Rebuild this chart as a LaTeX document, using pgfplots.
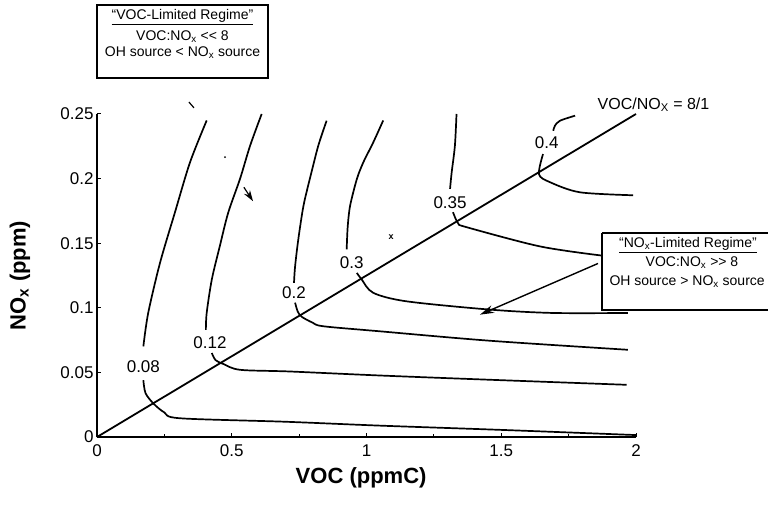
\documentclass[border=0pt]{standalone}
\usepackage{pgfplots}
\pgfplotsset{compat=1.18}
\usepackage{fontspec}
\setmainfont{Liberation Sans}
\usetikzlibrary{arrows.meta}

\newcommand{\clab}{\fontsize{17}{18}\selectfont}
\newcommand{\boxf}{\fontsize{14}{15}\selectfont}

\begin{document}
\begin{tikzpicture}
\useasboundingbox (0,0) rectangle (768pt,506pt);
\begin{axis}[
  at={(97pt,69pt)}, anchor=south west,
  width=539pt, height=323pt, scale only axis,
  xmin=0, xmax=2, ymin=0, ymax=0.25,
  enlargelimits=false, clip=false,
  axis x line=bottom, axis y line=left,
  axis line style={line width=1.7pt,-},
  tick align=inside, major tick length=4pt, minor tick length=3pt,
  tick style={black, line width=1pt},
  xtick={0,0.5,1,1.5,2}, xticklabels={0,0.5,1,1.5,2},
  minor x tick num=1,
  ytick={0,0.05,0.1,0.15,0.2,0.25}, yticklabels={0,0.05,0.1,0.15,0.2,0.25},
  scaled ticks=false,
  /pgf/number format/assume math mode=true,
  ticklabel style={font=\clab},
  xticklabel style={yshift=-4pt},
  xlabel={VOC (ppmC)},
  ylabel={NO\textsubscript{x} (ppm)},
  xlabel style={at={(axis description cs:0.49,-0.127)}, anchor=center, font=\bfseries\fontsize{22}{24}\selectfont},
  ylabel style={at={(axis description cs:-0.143,0.5)}, anchor=center, font=\bfseries\fontsize{22}{24}\selectfont},
  iso/.style={black, line width=1.7pt, smooth, tension=0.5, mark=none},
]
% VOC/NOx = 8/1 ridge line
\addplot[black, line width=1.8pt, mark=none] coordinates {(0,0) (2,0.25)};

% 0.08 isopleth
\addplot[iso] coordinates {(0.407,0.245)(0.345,0.2125)(0.289,0.1737)(0.234,0.1349)(0.190,0.0960)(0.172,0.0701)};
\addplot[iso] coordinates {(0.172,0.044)(0.180,0.034)(0.209,0.026)(0.250,0.019)(0.308,0.0145)(0.7,0.0118)(1.05,0.0088)(1.5,0.0055)(2.0,0.0015)};
% 0.12
\addplot[iso] coordinates {(0.611,0.25)(0.568,0.2254)(0.531,0.2)(0.487,0.1737)(0.456,0.148)(0.426,0.1219)(0.407,0.096)(0.404,0.083)};
\addplot[iso] coordinates {(0.426,0.065)(0.440,0.0595)(0.469,0.0565)(0.531,0.052)(0.716,0.0507)(1.05,0.0476)(1.458,0.0443)(1.965,0.0404)};
% 0.2
\addplot[iso] coordinates {(0.852,0.2448)(0.821,0.2254)(0.79,0.2)(0.766,0.1788)(0.747,0.153)(0.735,0.132)(0.731,0.1193)};
\addplot[iso] coordinates {(0.735,0.104)(0.745,0.097)(0.76,0.093)(0.80,0.0885)(0.84,0.0857)(1.05,0.0818)(1.458,0.0745)(1.97,0.0675)};
% 0.3
\addplot[iso] coordinates {(1.062,0.245)(1.025,0.228)(0.988,0.2125)(0.964,0.1995)(0.939,0.1788)(0.930,0.162)(0.9265,0.1452)};
\addplot[iso] coordinates {(0.964,0.127)(0.982,0.122)(1.025,0.1116)(1.149,0.105)(1.458,0.0986)(1.692,0.096)(1.97,0.096)};
% 0.35
\addplot[iso] coordinates {(1.334,0.25)(1.328,0.2254)(1.316,0.2047)(1.31,0.192)};
\addplot[iso] coordinates {(1.321,0.174)(1.34,0.1654)(1.373,0.1623)(1.644,0.1475)(1.870,0.1405)};
% 0.4
\addplot[iso] coordinates {(1.693,0.2370)(1.699,0.2409)(1.718,0.2448)(1.774,0.2487)};
\addplot[iso] coordinates {(1.655,0.219)(1.640,0.2034)(1.681,0.1972)(1.792,0.1894)(1.989,0.1871)};

% isopleth labels
\node[font=\clab] at (axis cs:0.172,0.0541) {0.08};
\node[font=\clab] at (axis cs:0.419,0.0727) {0.12};
\node[font=\clab] at (axis cs:0.731,0.1116) {0.2};
\node[font=\clab] at (axis cs:0.945,0.1353) {0.3};
\node[font=\clab] at (axis cs:1.31,0.181) {0.35};
\node[font=\clab] at (axis cs:1.669,0.228) {0.4};

% arrows and stray marks
\draw[line width=1.4pt, -{Stealth[length=14pt,width=8pt]}] (axis cs:1.859,0.1343) -- (axis cs:1.421,0.0947);
\draw[line width=1.2pt, -{Stealth[length=11pt,width=7pt]}] (axis cs:0.545,0.1933) -- (axis cs:0.579,0.1825);
\draw[line width=1.2pt] (axis cs:0.341,0.2593) -- (axis cs:0.36,0.2547);
\fill (axis cs:0.475,0.2166) circle (1pt);
\node[font=\bfseries\fontsize{9}{9}\selectfont] at (axis cs:1.091,0.1545) {x};
\end{axis}

% annotation boxes
\draw[line width=1.2pt] (97pt,501pt) rectangle (268pt,428pt);
\node[font=\boxf] at (182.5pt,489pt) {\underline{``VOC-Limited Regime''}};
\node[font=\boxf] at (182.5pt,469pt) {VOC:NO\textsubscript{x} {<}{<} 8};
\node[font=\boxf] at (182.5pt,453pt) {OH source < NO\textsubscript{x} source};

\draw[line width=1.2pt] (602pt,273pt) -- (602pt,196pt) -- (790pt,196pt);
\draw[line width=1.2pt] (602pt,273pt) -- (790pt,273pt);
\node[font=\boxf] at (688pt,261pt) {\underline{``NO\textsubscript{x}-Limited Regime''}};
\node[font=\boxf] at (692pt,243pt) {VOC:NO\textsubscript{x} {>}{>} 8};
\node[font=\boxf, anchor=west] at (606pt,224pt) {OH source > NO\textsubscript{x} source};

\node[font=\fontsize{16}{17}\selectfont, anchor=base] at (653.5pt,396.7pt) {VOC/NO\textsubscript{X} = 8/1};
\end{tikzpicture}
\end{document}
